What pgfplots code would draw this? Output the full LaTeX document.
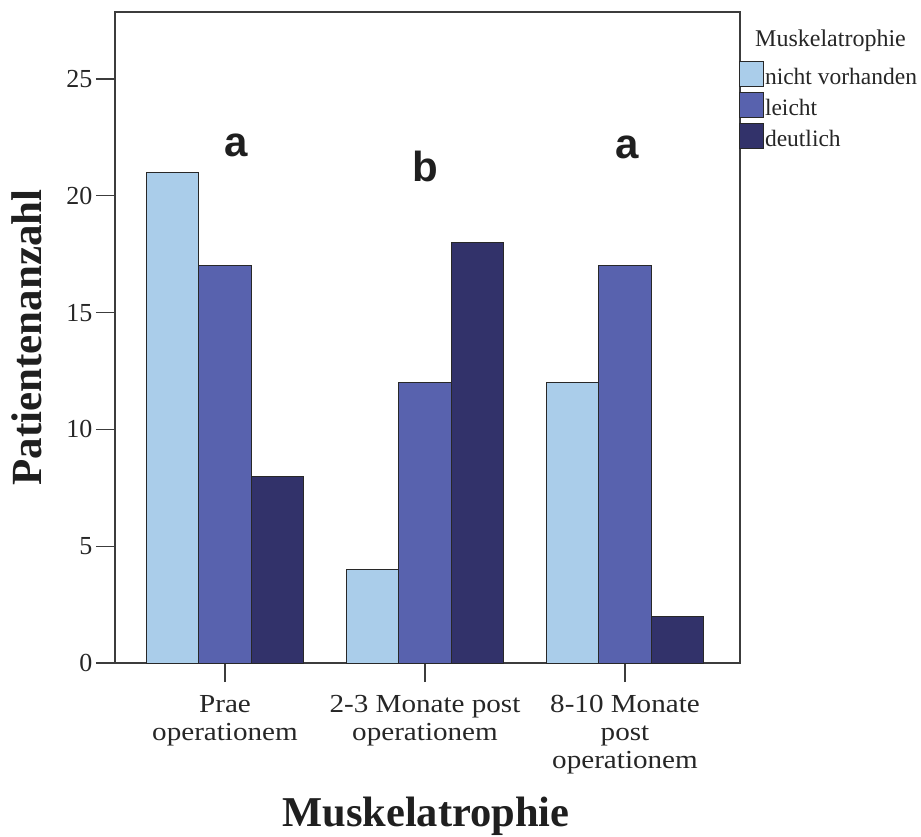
\documentclass[border=0pt]{standalone}
\usepackage{pgfplots}
\pgfplotsset{compat=1.18}
\usepackage{fontspec}
\setmainfont{Liberation Serif}
\newfontfamily\lettersans{Liberation Sans}

\definecolor{cLight}{RGB}{170,205,234}
\definecolor{cMid}{RGB}{88,98,174}
\definecolor{cDark}{RGB}{50,50,106}
\definecolor{axisgray}{RGB}{60,60,60}
\definecolor{edgegray}{RGB}{40,40,40}

% square swatch for the legend
\pgfplotsset{legendbox/.style={legend image code/.code={\draw[##1] (0pt,-2pt) rectangle (24pt,23pt);}}}

\begin{document}
\begin{tikzpicture}
\begin{axis}[
  scale only axis, width=625pt, height=651pt,
  xmin=-0.55, xmax=2.575, ymin=0, ymax=27.87,
  clip=false,
  ybar=0pt, bar width=52.5pt,
  axis line style={axisgray, line width=1.3pt},
  tick pos=left, tick align=outside, major tick length=19pt,
  every tick/.style={axisgray, line width=1.3pt},
  xtick={0,1,2},
  xticklabels={{Prae\\operationem},{2-3 Monate post\\operationem},{8-10 Monate\\post\\operationem}},
  xticklabel style={align=center, font=\fontsize{26}{28}\selectfont, xscale=1.12,
    text=black!85, yshift=-10pt},
  ytick={0,5,10,15,20,25},
  yticklabel style={font=\fontsize{26}{30}\selectfont, text=black!85},
  /pgf/number format/assume math mode=true,
  ylabel={Patientenanzahl},
  ylabel style={at={(axis description cs:-0.1168,0.5)}, anchor=south, inner sep=0pt,
    font=\fontsize{43}{48}\selectfont\bfseries, text=black!88},
  xlabel={Muskelatrophie},
  xlabel style={at={(axis description cs:0.4976,-0.2519)}, anchor=base, inner sep=0pt,
    font=\fontsize{42.5}{48}\selectfont\bfseries, text=black!88},
  legend style={at={(rel axis cs:1,1)}, anchor=north west, xshift=-1pt, yshift=-49pt,
    draw=none, fill=none, inner sep=0pt, row sep=5pt,
    font=\fontsize{23.5}{26}\selectfont, text=black!85,
    nodes={inner sep=1pt, anchor=base west}},
  legend cell align=left,
]
% Preoperative, 2-3 months and 8-10 months after surgery
\addplot[fill=cLight, draw=edgegray, line width=0.8pt, legendbox]
  coordinates {(0,21) (1,4) (2,12)};
\addplot[fill=cMid, draw=edgegray, line width=0.8pt, legendbox]
  coordinates {(0,17) (1,12) (2,17)};
\addplot[fill=cDark, draw=edgegray, line width=0.8pt, legendbox]
  coordinates {(0,8) (1,18) (2,2)};
\legend{nicht vorhanden, leicht, deutlich}

% Group letters from the post-hoc comparison
\node[anchor=base, font=\lettersans\bfseries\fontsize{42}{46}\selectfont, text=black!88] at (axis cs:0.0575,21.7) {a};
\node[anchor=base, font=\lettersans\bfseries\fontsize{42}{46}\selectfont, text=black!88] at (axis cs:1.0,20.6) {b};
\node[anchor=base, font=\lettersans\bfseries\fontsize{42}{46}\selectfont, text=black!88] at (axis cs:2.01,21.6) {a};

% Legend heading
\node[anchor=base west, inner sep=0pt, font=\fontsize{24}{27}\selectfont, text=black!85]
  at (rel axis cs:1,1) [xshift=15pt, yshift=-35pt] {Muskelatrophie};
\end{axis}
\pgfresetboundingbox
\path[use as bounding box] (-115pt,-174pt) rectangle (806pt,663pt);
\end{tikzpicture}
\end{document}
